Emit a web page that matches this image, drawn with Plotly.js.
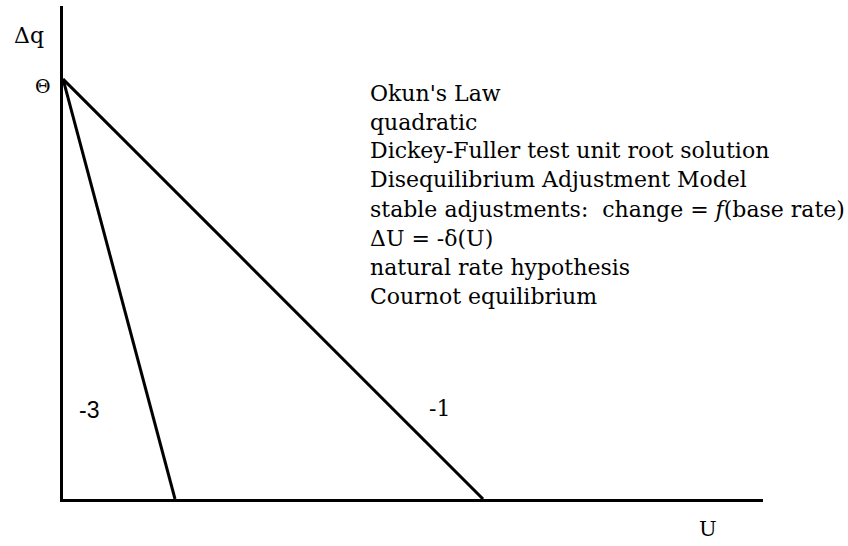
<!DOCTYPE html>
<html>
<head>
<meta charset="utf-8">
<script src="https://cdn.plot.ly/plotly-3.0.1.min.js"></script>
<style>html,body{margin:0;padding:0;background:#fff;}#chart{width:848px;height:546px;}</style>
</head>
<body>
<div id="chart"></div>
<script>
// ---- data ----
const theta = 6;                 // Δq intercept
const slopeLabels = ["-1", "-3"];
const lineX = [[0, 6.0], [0, 1.6]];   // U values at start / end of each line
const lineY = [[theta, 0], [theta, 0]]; // Δq values
const notes = [
  "Okun's Law",
  "quadratic",
  "Dickey-Fuller test unit root solution",
  "Disequilibrium Adjustment Model",
  "stable adjustments:\u00a0 change = <i>f</i>(base rate)",
  "\u0394U = -\u03b4(U)",
  "natural rate hypothesis",
  "Cournot equilibrium"
];
const xRange = [0, 10];
const yRange = [0, 7.043];

// ---- layout helpers ----
const W = 848, H = 546;
const M = {l: 63, r: 85, t: 6, b: 47};
const pw = W - M.l - M.r, ph = H - M.t - M.b;
const px = x => (x - M.l) / pw;
const py = y => (H - M.b - y) / ph;

const serif = "'DejaVu Serif', 'Liberation Serif', serif";
const sans = "'Liberation Sans', Arial, sans-serif";
const traces = lineX.map((xs, i) => ({
  x: xs, y: lineY[i], type: "scatter", mode: "lines",
  line: {color: "#000", width: 3}, cliponaxis: false, hoverinfo: "skip"
}));

const noteMid = [93, 122, 151, 180, 209, 238, 267, 296];
const annotations = notes.map((t, i) => ({
  text: t, xref: "paper", yref: "paper", x: px(368), y: py(noteMid[i]),
  xanchor: "left", yanchor: "middle", showarrow: false,
  font: {family: serif, size: 22, color: "#000"}
}));
function label(t, x, y, fam, size) {
  return {text: t, xref: "paper", yref: "paper", x: px(x), y: py(y),
    xanchor: "center", yanchor: "middle", showarrow: false,
    font: {family: fam, size: size, color: "#000"}};
}
annotations.push(
  label("\u0394q", 29, 35, serif, 22),
  label("\u0398", 43, 86, serif, 19),
  label(slopeLabels[1], 89, 410, sans, 23),
  label(slopeLabels[0], 439, 408, serif, 22),
  label("U", 708, 529, serif, 21)
);

const axis = {
  showline: true, linewidth: 3, linecolor: "#000", showgrid: false, zeroline: false,
  showticklabels: false, ticks: "", fixedrange: true
};
const layout = {
  width: W, height: H, margin: M,
  paper_bgcolor: "#fff", plot_bgcolor: "#fff", showlegend: false,
  xaxis: Object.assign({range: xRange}, axis),
  yaxis: Object.assign({range: yRange}, axis),
  annotations: annotations
};
Plotly.newPlot("chart", traces, layout, {staticPlot: true});
</script>
</body>
</html>
